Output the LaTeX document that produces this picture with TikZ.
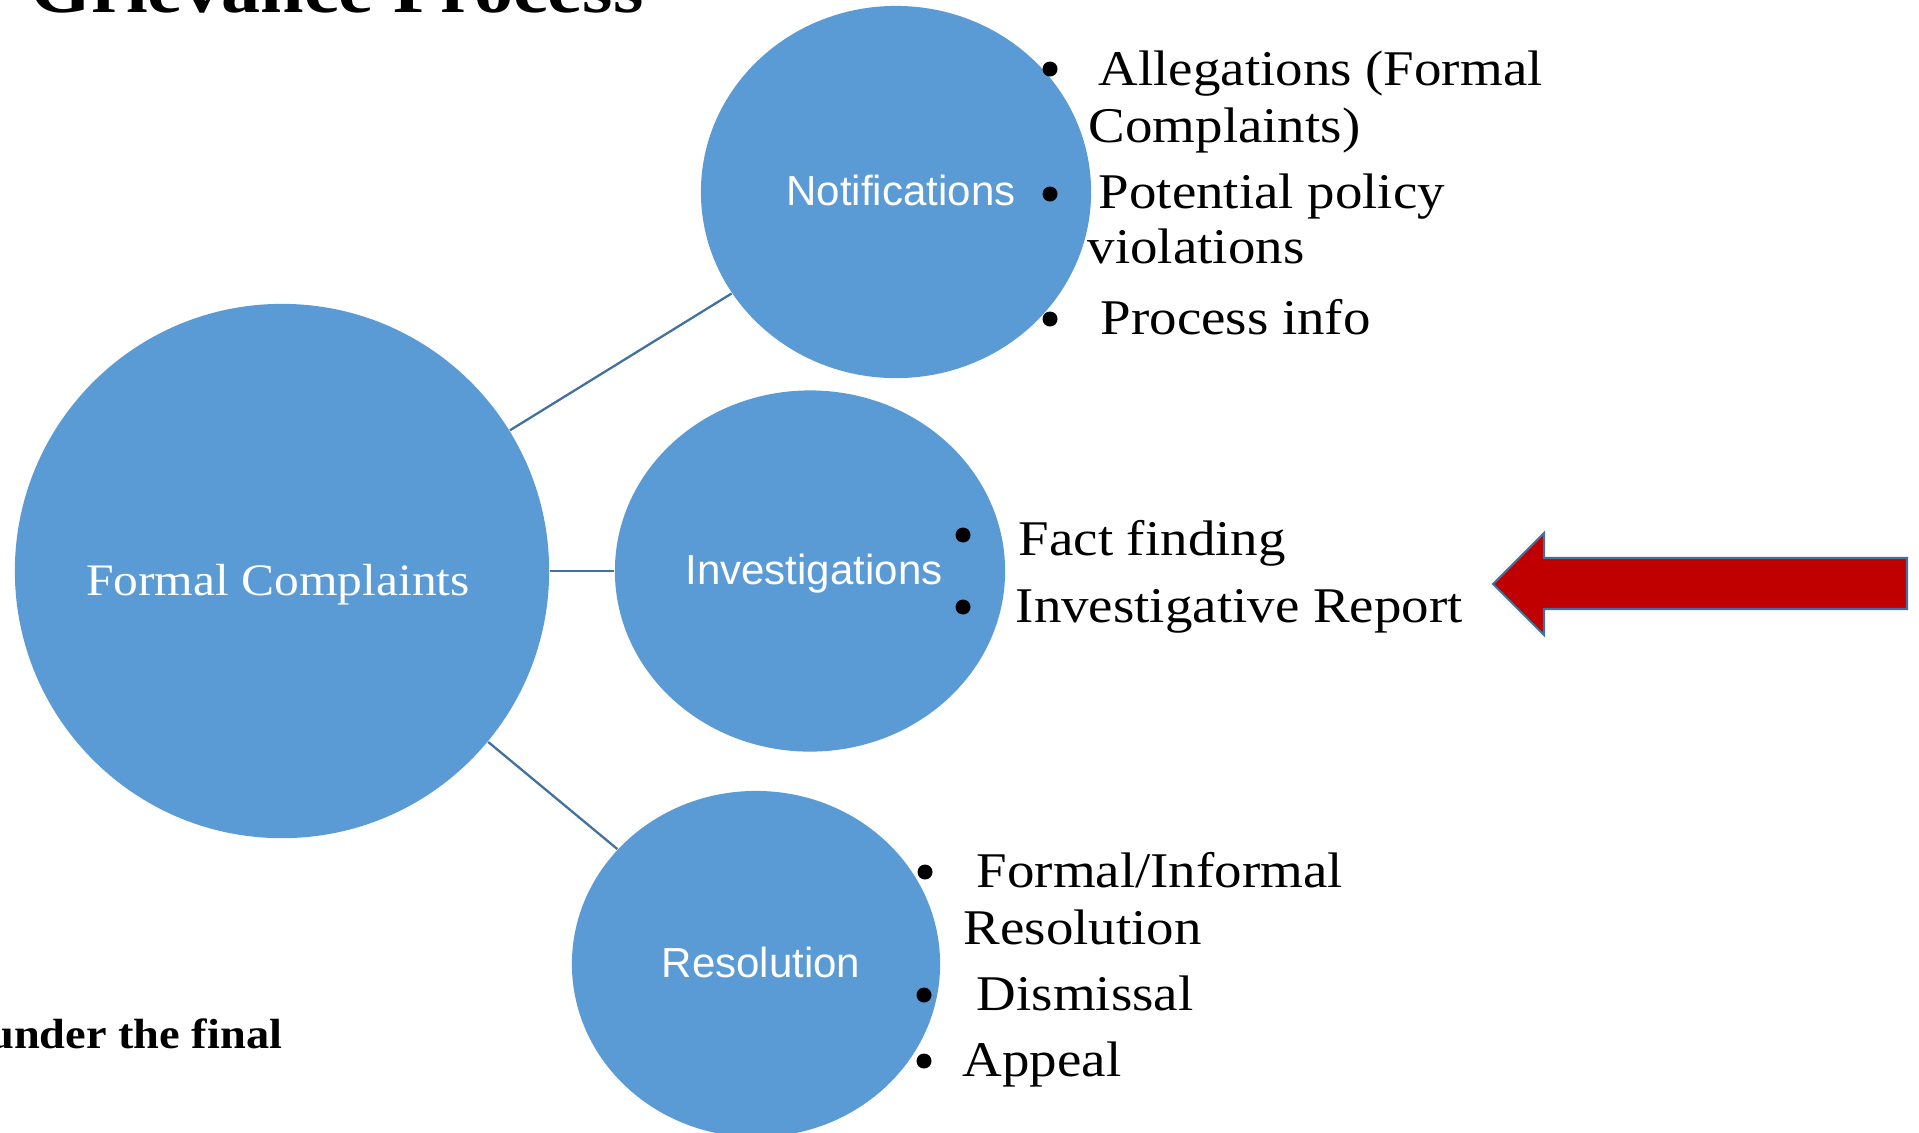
\documentclass[tikz,border=0pt]{standalone}
\usepackage{fontspec}
\setmainfont{Liberation Serif}[FakeStretch=1.1]
\newfontfamily\labelfont{Liberation Sans}
\usetikzlibrary{shapes.geometric}
\definecolor{bubble}{HTML}{5B9BD5}
\definecolor{connline}{HTML}{41719C}
\definecolor{arrowred}{HTML}{C00000}
\tikzset{
  bubblebox/.style={ellipse, fill=bubble, draw=none, inner sep=0pt},
  conn/.style={draw=connline, line width=0.65pt},
  circlabel/.style={anchor=base, text=white, inner sep=0pt, font=\labelfont\fontsize{11.95pt}{14pt}\selectfont},
  bigtext/.style={anchor=base, text=white, inner sep=0pt, font=\fontsize{12.8pt}{15pt}\selectfont},
  bultext/.style={anchor=base west, inner sep=0pt, font=\fontsize{14.2pt}{17pt}\selectfont},
  bul/.style={circle, fill=black, inner sep=0pt, minimum size=0.15cm},
  redarrow/.style={fill=arrowred, draw=connline, line width=0.6pt, line join=miter}
}
\begin{document}
\begin{tikzpicture}[x=0.01cm, y=-0.01cm]
\useasboundingbox (0,0) rectangle (1919,1132);
\clip (0,0) rectangle (1919,1132);

% title (cut off at top)
\node[anchor=base west, inner sep=0pt, font=\bfseries\fontsize{20.2pt}{24pt}\selectfont] (title) at (30,12) {Grievance Process};

% footer text (cut off at left)
\node[anchor=base east, inner sep=0pt, font=\bfseries\fontsize{12pt}{14pt}\selectfont] (footer) at (283,1048) {under the final};

% bubbles
\node[bubblebox, circle, minimum size=5.34cm] (fc) at (282,571) {};
\node[bubblebox, minimum width=3.90cm, minimum height=3.72cm] (notif) at (896,192) {};
\node[bubblebox, minimum width=3.90cm, minimum height=3.61cm] (inv) at (810,571) {};
\node[bubblebox, minimum width=3.68cm, minimum height=3.46cm] (res) at (756,964) {};

% labels
\node[bigtext] (fcl) at (278,595) {Formal Complaints};
\node[circlabel] (notifl) at (901,205) {Notifications};
\node[circlabel] (invl) at (814,584) {Investigations};
\node[circlabel] (resl) at (761,977) {Resolution};

% connectors
\draw[conn] (fc) -- (notif);
\draw[conn] (fc) -- (inv);
\draw[conn] (fc) -- (res);

% notifications bullets
\node[bul] (nb1) at (1050,69) {};
\node[bultext] (nt1) at (1098,85) {Allegations (Formal};
\node[bultext] (nt1b) at (1088,142) {Complaints)};
\node[bul] (nb2) at (1050,194) {};
\node[bultext] (nt2) at (1098,208) {Potential policy};
\node[bultext] (nt2b) at (1087,263) {violations};
\node[bul] (nb3) at (1050,319) {};
\node[bultext] (nt3) at (1100,334) {Process info};

% investigations bullets
\node[bul] (ib1) at (963,535) {};
\node[bultext] (it1) at (1018,555) {Fact finding};
\node[bul] (ib2) at (963,607) {};
\node[bultext] (it2) at (1015,622) {Investigative Report};

% resolution bullets
\node[bul] (rb1) at (925,872) {};
\node[bultext] (rt1) at (976,887) {Formal/Informal};
\node[bultext] (rt1b) at (963,944) {Resolution};
\node[bul] (rb2) at (924,995) {};
\node[bultext] (rt2) at (976,1010) {Dismissal};
\node[bul] (rb3) at (924,1061) {};
\node[bultext] (rt3) at (962,1076) {Appeal};

% red arrow
\draw[redarrow] (1907,558) -- (1544,558) -- (1544,533) -- (1493,584) -- (1544,635) -- (1544,609) -- (1907,609) -- cycle;
\end{tikzpicture}
\end{document}
